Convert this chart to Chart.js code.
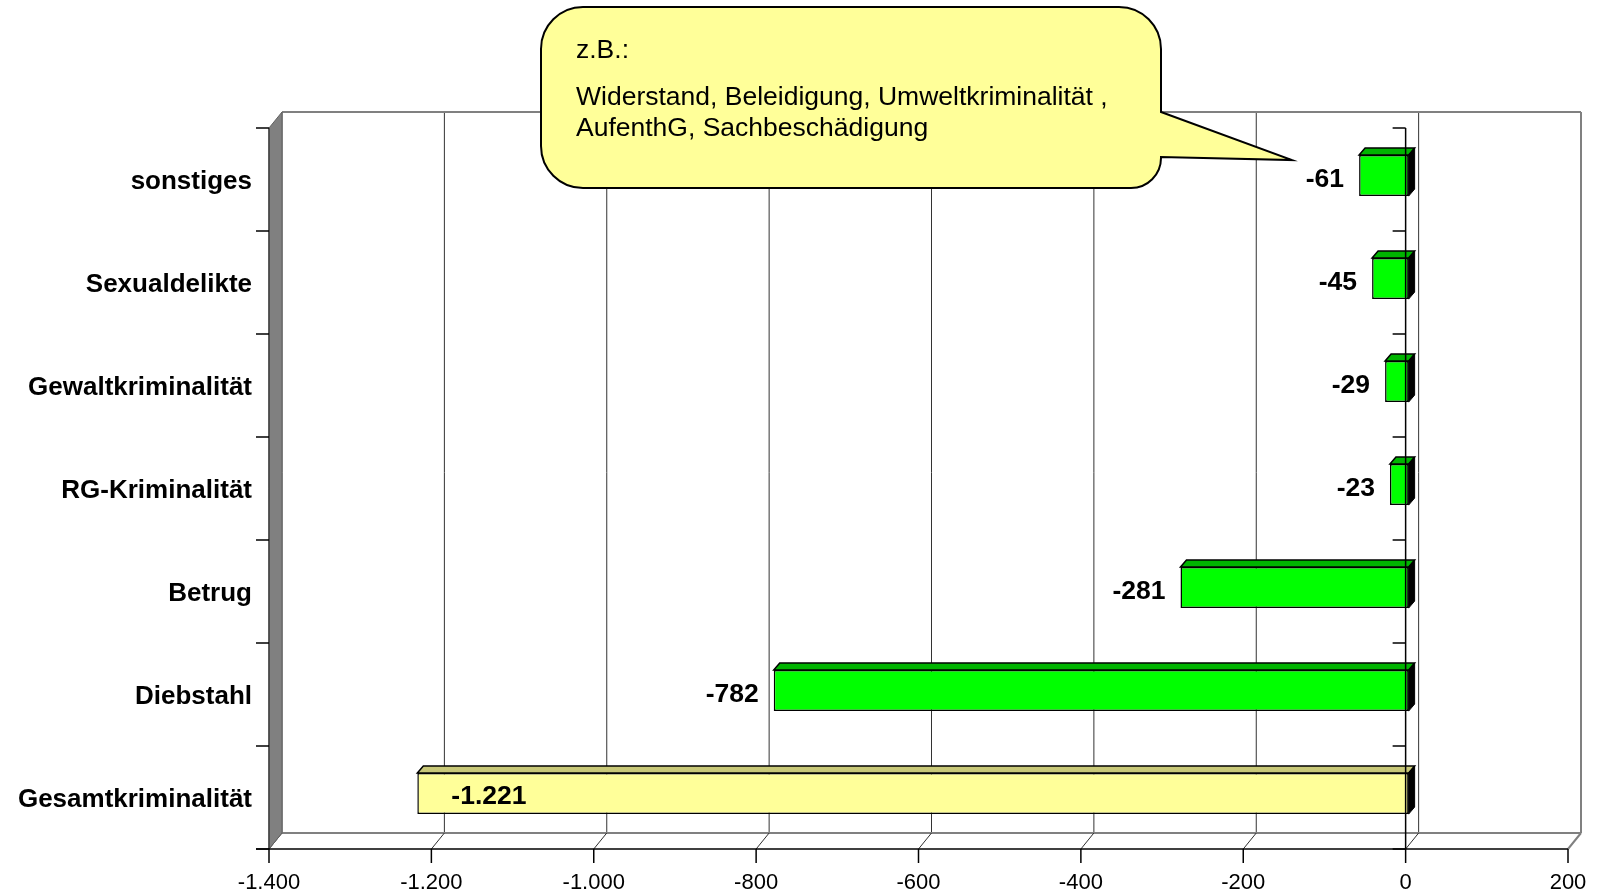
<!DOCTYPE html>
<html>
<head>
<meta charset="utf-8">
<script src="https://cdn.jsdelivr.net/npm/chart.js@4.4.1/dist/chart.umd.min.js"></script>
<style>
  html, body { margin: 0; padding: 0; background: #fff; }
  #wrap { width: 1597px; height: 892px; position: relative; }
</style>
</head>
<body>
<div id="wrap"><canvas id="chartCanvas"></canvas></div>
<script>
const categories = ["sonstiges", "Sexualdelikte", "Gewaltkriminalität", "RG-Kriminalität", "Betrug", "Diebstahl", "Gesamtkriminalität"];
const changes = [-61, -45, -29, -23, -281, -782, -1221];
const barColors = ["#00FF00", "#00FF00", "#00FF00", "#00FF00", "#00FF00", "#00FF00", "#FFFF99"];
const topColors = ["#00B400", "#00B400", "#00B400", "#00B400", "#00B400", "#00B400", "#C8C878"];
const xTicks = [-1400, -1200, -1000, -800, -600, -400, -200, 0, 200];
const calloutLines = ["z.B.:", "Widerstand, Beleidigung, Umweltkriminalität ,", "AufenthG, Sachbeschädigung"];

const FONT = "Arial, 'Liberation Sans', sans-serif";
const WALL_DX = 13, WALL_DY = -16;   // depth of the plot box
const BAR_DX = 3, BAR_DY = -4;       // bars sit a bit behind the front plane
const FACE_DX = 6, FACE_DY = -7;     // bar depth

const formatDe = (v) => {
  const s = Math.abs(v).toString().replace(/\B(?=(\d{3})+(?!\d))/g, ".");
  return (v < 0 ? "-" : "") + s;
};

const poly = (ctx, pts, fill, stroke, lw) => {
  ctx.beginPath();
  ctx.moveTo(pts[0][0], pts[0][1]);
  for (let i = 1; i < pts.length; i++) ctx.lineTo(pts[i][0], pts[i][1]);
  ctx.closePath();
  if (fill) { ctx.fillStyle = fill; ctx.fill(); }
  if (stroke) { ctx.strokeStyle = stroke; ctx.lineWidth = lw || 1; ctx.stroke(); }
};

const line = (ctx, x1, y1, x2, y2, color, lw) => {
  ctx.beginPath();
  ctx.moveTo(x1, y1);
  ctx.lineTo(x2, y2);
  ctx.strokeStyle = color;
  ctx.lineWidth = lw || 1;
  ctx.stroke();
};

const box3d = {
  id: "box3d",
  beforeDatasetsDraw(chart) {
    const { ctx, chartArea: a, scales: { x } } = chart;
    ctx.save();
    // back wall
    poly(ctx, [[a.left + WALL_DX, a.top + WALL_DY], [a.right + WALL_DX, a.top + WALL_DY],
               [a.right + WALL_DX, a.bottom + WALL_DY], [a.left + WALL_DX, a.bottom + WALL_DY]], "#fff", null);
    // gridlines on the back wall
    xTicks.forEach((v) => {
      const px = x.getPixelForValue(v) + WALL_DX;
      line(ctx, px, a.top + WALL_DY, px, a.bottom + WALL_DY, v === 200 ? "#808080" : "#333", v === 200 ? 2 : 1);
    });
    line(ctx, a.left + WALL_DX, a.top + WALL_DY, a.right + WALL_DX, a.top + WALL_DY, "#808080", 2);
    // floor
    poly(ctx, [[a.left, a.bottom], [a.left + WALL_DX, a.bottom + WALL_DY],
               [a.right + WALL_DX, a.bottom + WALL_DY], [a.right, a.bottom]], "#fff", null);
    line(ctx, a.left + WALL_DX, a.bottom + WALL_DY, a.right + WALL_DX, a.bottom + WALL_DY, "#808080", 2);
    xTicks.forEach((v) => {
      const px = x.getPixelForValue(v);
      line(ctx, px, a.bottom, px + WALL_DX, a.bottom + WALL_DY, v === 200 ? "#808080" : "#303030", v === 200 ? 2 : 1);
    });
    // left wall
    poly(ctx, [[a.left, a.top], [a.left + WALL_DX, a.top + WALL_DY],
               [a.left + WALL_DX, a.bottom + WALL_DY], [a.left, a.bottom]], "#808080", "#606060", 1);
    ctx.restore();
  },
  beforeDatasetDraw(chart) {
    chart.ctx.save();
    chart.ctx.translate(BAR_DX, BAR_DY);
  },
  afterDatasetDraw(chart) {
    chart.ctx.restore();
  },
  afterDatasetsDraw(chart) {
    const { ctx, chartArea: a, scales: { x } } = chart;
    const meta = chart.getDatasetMeta(0);
    ctx.save();
    ctx.translate(BAR_DX, BAR_DY);
    meta.data.forEach((bar, i) => {
      const p = bar.getProps(["x", "y", "base", "height"], true);
      const t = p.y - p.height / 2, b = p.y + p.height / 2;
      const l = Math.min(p.x, p.base), r = Math.max(p.x, p.base);
      poly(ctx, [[l, t], [l + FACE_DX, t + FACE_DY], [r + FACE_DX, t + FACE_DY], [r, t]], topColors[i], "#000", 1.5);
      poly(ctx, [[r, t], [r + FACE_DX, t + FACE_DY], [r + FACE_DX, b + FACE_DY], [r, b]], "#000", "#000", 1);
    });
    ctx.restore();

    ctx.save();
    const n = categories.length;
    const x0 = x.getPixelForValue(0);
    // front axes
    line(ctx, a.left, a.top, a.left, a.bottom, "#404040", 1.5);
    line(ctx, a.left - 13, a.bottom, a.right, a.bottom, "#000", 1.5);
    line(ctx, x0, a.top, x0, a.bottom, "#000", 1.5);
    for (let k = 0; k <= n; k++) {
      const yb = a.top + k * a.height / n;
      line(ctx, a.left - 13, yb, a.left, yb, "#000", 1.5);
      line(ctx, x0 - 13, yb, x0, yb, "#000", 1.5);
    }
    xTicks.forEach((v) => {
      const px = x.getPixelForValue(v);
      line(ctx, px, a.bottom, px, a.bottom + 14, "#000", 1.5);
    });

    // value labels
    ctx.fillStyle = "#000";
    ctx.font = "bold 26.5px " + FONT;
    ctx.textBaseline = "middle";
    meta.data.forEach((bar, i) => {
      const p = bar.getProps(["x", "y"], true);
      if (i === meta.data.length - 1) {
        ctx.textAlign = "left";
        ctx.fillText(formatDe(changes[i]), p.x + 37, p.y - 1);
      } else {
        ctx.textAlign = "right";
        ctx.fillText(formatDe(changes[i]), p.x - 12, p.y);
      }
    });
    ctx.restore();
  },
  afterDraw(chart) {
    const { ctx } = chart;
    // speech bubble
    const bx = 541, by = 7, bw = 620, bh = 181, r = 42;
    const tip = [1292, 160];
    ctx.save();
    ctx.beginPath();
    ctx.moveTo(bx + r, by);
    ctx.lineTo(bx + bw - r, by);
    ctx.arcTo(bx + bw, by, bx + bw, by + r, r);
    ctx.lineTo(bx + bw, 112);
    ctx.lineTo(tip[0], tip[1]);
    ctx.lineTo(bx + bw, 157);
    ctx.arcTo(bx + bw, by + bh, bx + bw - r, by + bh, 30);
    ctx.lineTo(bx + r, by + bh);
    ctx.arcTo(bx, by + bh, bx, by + bh - r, r);
    ctx.lineTo(bx, by + r);
    ctx.arcTo(bx, by, bx + r, by, r);
    ctx.closePath();
    ctx.fillStyle = "#FFFF99";
    ctx.fill();
    ctx.strokeStyle = "#000";
    ctx.lineWidth = 2;
    ctx.stroke();

    ctx.fillStyle = "#000";
    ctx.font = "26.5px " + FONT;
    ctx.textAlign = "left";
    ctx.textBaseline = "middle";
    ctx.fillText(calloutLines[0], 576, 51);
    ctx.fillText(calloutLines[1], 576, 98);
    ctx.fillText(calloutLines[2], 576, 129);
    ctx.restore();
  }
};

new Chart(document.getElementById("chartCanvas"), {
  type: "bar",
  data: {
    labels: categories,
    datasets: [
      {
        data: changes,
        backgroundColor: barColors,
        borderColor: "#000",
        borderWidth: 1.5,
        borderSkipped: false,
        barPercentage: 0.4,
        categoryPercentage: 1,
      },
    ],
  },
  options: {
    indexAxis: "y",
    responsive: true,
    maintainAspectRatio: false,
    animation: false,
    layout: { padding: { top: 128, right: 29, left: 0, bottom: 0 } },
    plugins: { legend: { display: false }, tooltip: { enabled: false } },
    scales: {
      x: {
        min: -1400,
        max: 200,
        afterBuildTicks: (scale) => { scale.ticks = xTicks.map((v) => ({ value: v })); },
        afterFit: (scale) => {
          scale.height = 43;
          scale.paddingLeft = 0;
          scale.paddingRight = 0;
        },
        grid: { display: false, drawTicks: false },
        border: { display: false },
        ticks: {
          padding: 21,
          color: "#000",
          font: { family: FONT, size: 22 },
          maxRotation: 0,
          callback: (v) => formatDe(v),
        },
      },
      y: {
        afterFit: (scale) => {
          scale.width = 269;
          scale.paddingTop = 0;
          scale.paddingBottom = 0;
        },
        grid: { display: false, drawTicks: false },
        border: { display: false },
        ticks: {
          padding: 17,
          labelOffset: 2.5,
          color: "#000",
          font: { family: FONT, size: 26, weight: "bold" },
        },
      },
    },
  },
  plugins: [box3d],
});
</script>
</body>
</html>
